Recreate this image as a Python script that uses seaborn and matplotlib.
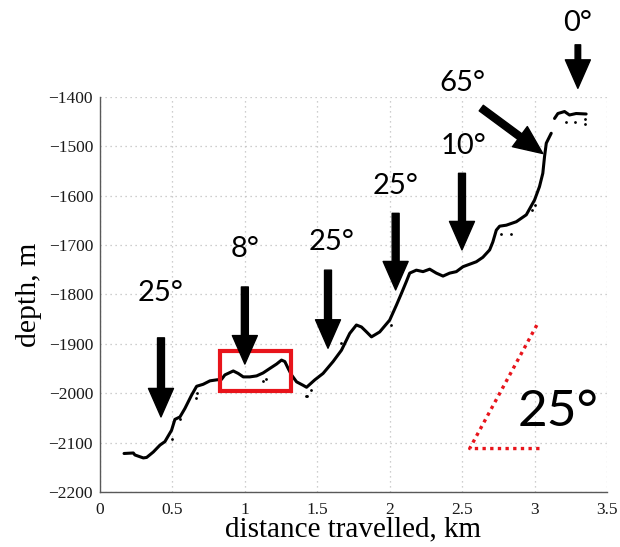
import numpy as np
import pandas as pd
import matplotlib
matplotlib.use("Agg")
import matplotlib.pyplot as plt
import seaborn as sns
from matplotlib.patches import Rectangle

# ---- data ----
dist_km = [0.166, 0.230, 0.241, 0.299, 0.322, 0.368, 0.414, 0.448, 0.494, 0.517,
           0.552, 0.586, 0.632, 0.667, 0.712, 0.759, 0.805, 0.839, 0.862, 0.920,
           0.954, 0.989, 1.034, 1.081, 1.126, 1.172, 1.219, 1.253, 1.276, 1.299,
           1.322, 1.357, 1.402, 1.426, 1.483, 1.540, 1.609, 1.667, 1.724, 1.770,
           1.805, 1.840, 1.874, 1.897, 1.931, 2.000, 2.046, 2.081, 2.115, 2.138,
           2.184, 2.230, 2.276, 2.322, 2.368, 2.414, 2.460, 2.506, 2.552, 2.598,
           2.643, 2.690, 2.712, 2.736, 2.759, 2.805, 2.874, 2.943, 3.000, 3.034,
           3.057, 3.069, 3.081, 3.115]
depth_m = [-2122, -2121, -2125, -2131, -2130, -2119, -2105, -2098, -2075, -2053,
           -2048, -2031, -2004, -1986, -1982, -1975, -1973, -1972, -1963, -1955,
           -1960, -1967, -1967, -1965, -1959, -1950, -1941, -1933, -1936, -1950,
           -1963, -1977, -1984, -1988, -1973, -1960, -1936, -1913, -1879, -1862,
           -1866, -1876, -1886, -1882, -1876, -1852, -1822, -1798, -1774, -1757,
           -1751, -1754, -1749, -1757, -1763, -1757, -1754, -1744, -1739, -1734,
           -1725, -1710, -1694, -1670, -1662, -1660, -1653, -1639, -1609, -1582,
           -1555, -1521, -1494, -1474]
top_dist_km = [3.138, 3.161, 3.207, 3.241, 3.287, 3.356]
top_depth_m = [-1444, -1434, -1430, -1437, -1434, -1435]

stray_dist_km = [0.50, 0.55, 0.662, 0.67, 1.122, 1.149, 1.425, 1.43, 1.46, 1.667,
                 2.01, 2.77, 2.84, 2.98, 3.00, 3.22, 3.28, 3.35, 3.35]
stray_depth_m = [-2092, -2052, -2010, -2000, -1976, -1972, -2006, -2005, -1994, -1899,
                 -1861, -1678, -1678, -1629, -1619, -1451, -1452, -1455, -1446]

# slope annotations: label, arrow tail (x, y), arrow tip (x, y), label position
slope_labels = ["25°", "8°", "25°", "25°", "10°", "65°", "0°"]
arrow_tail_x = [0.421, 1.000, 1.574, 2.041, 2.499, 2.632, 3.299]
arrow_tail_y = [-1888, -1785, -1751, -1636, -1555, -1423, -1295]
arrow_tip_x = [0.421, 1.000, 1.574, 2.041, 2.499, 3.057, 3.299]
arrow_tip_y = [-2048, -1941, -1909, -1791, -1710, -1515, -1383]
label_x = [0.42, 1.00, 1.60, 2.04, 2.51, 2.50, 3.30]
label_y = [-1798, -1708, -1695, -1580, -1500, -1372, -1250]

# highlight box (x0, x1, y0, y1)
box_x = [0.828, 1.322]
box_y = [-1995, -1914]

# reference 25 degree angle
angle_vertex = [2.552, -2112]
angle_horizontal_end = [3.034, -2112]
angle_slope_end = [3.016, -1862]
angle_text = "25°"
angle_text_pos = [3.16, -2038]

x_ticks = [0, 0.5, 1, 1.5, 2, 2.5, 3, 3.5]
x_tick_labels = ["0", "0.5", "1", "1.5", "2", "2.5", "3", "3.5"]
y_ticks = [-2200, -2100, -2000, -1900, -1800, -1700, -1600, -1500, -1400]

# ---- plot ----
sns.set_style("white")
plt.rcParams["font.family"] = ["Liberation Serif", "DejaVu Serif"]
plt.rcParams["axes.unicode_minus"] = True
plt.rcParams["text.color"] = "black"
plt.rcParams["axes.labelcolor"] = "black"

fig = plt.figure(figsize=(6.2, 5.47), dpi=100)
ax = fig.add_axes([0.1613, 0.1005, 0.979 - 0.1613, 0.8232 - 0.1005])

prof = pd.DataFrame({"d": dist_km, "z": depth_m})
top = pd.DataFrame({"d": top_dist_km, "z": top_depth_m})
stray = pd.DataFrame({"d": stray_dist_km, "z": stray_depth_m})

sns.lineplot(data=prof, x="d", y="z", ax=ax, color="black", lw=2.2, sort=False)
sns.lineplot(data=top, x="d", y="z", ax=ax, color="black", lw=2.2, sort=False)
sns.scatterplot(data=stray, x="d", y="z", ax=ax, color="black", s=4, linewidth=0)

ax.set_xlim(0, 3.5)
ax.set_ylim(-2200, -1400)
ax.set_xticks(x_ticks)
ax.set_xticklabels(x_tick_labels)
ax.set_yticks(y_ticks)
ax.grid(True, linestyle=(0, (1, 3)), color="0.75", lw=0.9)
for s in ["top", "right"]:
    ax.spines[s].set_visible(False)
for s in ["left", "bottom"]:
    ax.spines[s].set_color("0.35")
    ax.spines[s].set_linewidth(1.0)
ax.tick_params(axis="both", direction="inout", length=4, width=0.8, color="0.35",
               labelsize=12.5, labelcolor="0.1")
ax.tick_params(axis="y", pad=3)
ax.tick_params(axis="x", pad=5)
ax.set_xlabel("distance travelled, km", fontsize=21, labelpad=-1)
ax.set_ylabel("depth, m", fontsize=21.5, labelpad=5)

# highlight box
ax.add_patch(Rectangle((box_x[0], box_y[0]), box_x[1] - box_x[0], box_y[1] - box_y[0],
                       fill=False, edgecolor="#e8141b", lw=3, zorder=4))

# arrows and labels
for i, lab in enumerate(slope_labels):
    tw = 0.4 if lab == "0°" else 0.5
    ax.annotate("", xy=(arrow_tip_x[i], arrow_tip_y[i]),
                xytext=(arrow_tail_x[i], arrow_tail_y[i]),
                arrowprops=dict(arrowstyle=f"simple,head_length=2.05,head_width=1.8,tail_width={tw}",
                                mutation_scale=10, color="black", shrinkA=0, shrinkB=0),
                annotation_clip=False, zorder=5)
    ax.text(label_x[i], label_y[i], lab, fontsize=21, family=["Lato", "DejaVu Sans"],
            color="black", ha="center", va="center", clip_on=False, zorder=5)

# reference angle
ax.plot([angle_horizontal_end[0], angle_vertex[0], angle_slope_end[0]],
        [angle_horizontal_end[1], angle_vertex[1], angle_slope_end[1]],
        color="#e8141b", lw=2.4, linestyle=(0, (1, 1.3)), zorder=4)
ax.text(angle_text_pos[0], angle_text_pos[1], angle_text, fontsize=37, color="black",
        family=["Lato", "DejaVu Sans"], ha="center", va="center", zorder=5)

fig.savefig("out.png", dpi=100)
